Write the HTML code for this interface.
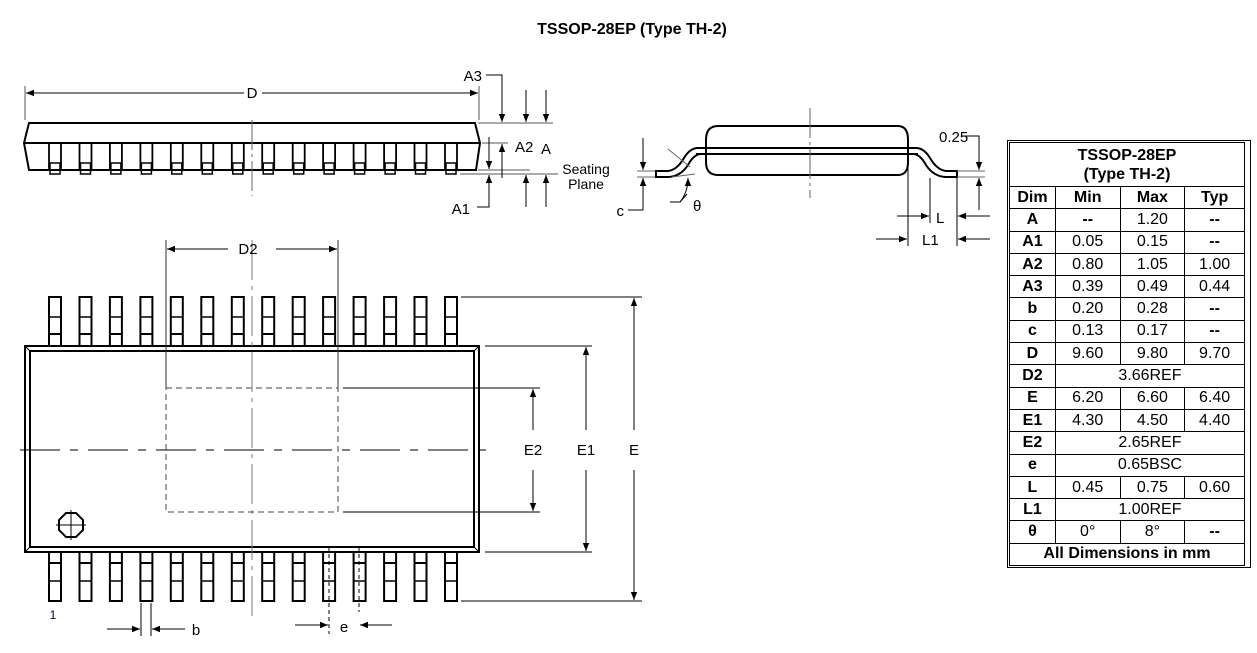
<!DOCTYPE html>
<html><head><meta charset="utf-8"><style>
body{margin:0;background:#fff;width:1257px;height:653px;overflow:hidden}
svg{display:block}
text{font-family:"Liberation Sans",Arial,sans-serif;fill:#000}
.t{font-size:15px}
td{border:1px solid #000;text-align:center;padding:0;font-size:16px;line-height:18px}
tr{height:22.3px}
</style></head><body>
<div style="position:absolute;left:0;top:0">
<svg width="1257" height="653" viewBox="0 0 1257 653">
<defs>
<marker id="ar" viewBox="0 0 10 10" refX="10" refY="5" markerWidth="15" markerHeight="8" markerUnits="userSpaceOnUse" orient="auto"><path d="M0,1 L10,5 L0,9z" fill="#000"/></marker>
<g id="tp"><rect x="0" y="0" width="12" height="49" fill="#fff" stroke="#000" stroke-width="2"/><line x1="0" y1="20" x2="12" y2="20" stroke="#000" stroke-width="1.5"/><line x1="0" y1="37" x2="12" y2="37" stroke="#000" stroke-width="2"/></g>
<g id="bp"><rect x="0" y="0" width="12" height="49" fill="#fff" stroke="#000" stroke-width="2"/><line x1="0" y1="11" x2="12" y2="11" stroke="#000" stroke-width="2"/><line x1="0" y1="29" x2="12" y2="29" stroke="#000" stroke-width="1.5"/></g>
<g id="sp"><rect x="0" y="143" width="12" height="27" fill="#fff" stroke="#000" stroke-width="1.8"/><rect x="1" y="163" width="10" height="11" fill="#fff" stroke="#000" stroke-width="1.5"/></g>
</defs>
<text x="632" y="34" text-anchor="middle" font-size="16" font-weight="bold">TSSOP-28EP (Type TH-2)</text>

<g>
<use href="#sp" x="49"/><use href="#sp" x="79.5"/><use href="#sp" x="109.9"/><use href="#sp" x="140.4"/><use href="#sp" x="170.8"/><use href="#sp" x="201.3"/><use href="#sp" x="231.8"/><use href="#sp" x="262.2"/><use href="#sp" x="292.7"/><use href="#sp" x="323.1"/><use href="#sp" x="353.6"/><use href="#sp" x="384.1"/><use href="#sp" x="414.5"/><use href="#sp" x="445"/>
<path d="M29,123 L475,123 L480,143 L476,170 L29,170 L24,143 Z" fill="none" stroke="#000" stroke-width="2"/>
<line x1="24" y1="143" x2="480" y2="143" stroke="#000" stroke-width="2"/>
<line x1="252" y1="120" x2="252" y2="196" stroke="#666" stroke-width="1" stroke-dasharray="30,4,3,4"/>
<line x1="25" y1="86" x2="25" y2="120" stroke="#555"/>
<line x1="479" y1="86" x2="479" y2="120" stroke="#555"/>
<line x1="244" y1="93" x2="26" y2="93" stroke="#000" marker-end="url(#ar)"/>
<line x1="262" y1="93" x2="478" y2="93" stroke="#000" marker-end="url(#ar)"/>
<text x="252" y="98" text-anchor="middle" class="t">D</text>
<g stroke="#555"><line x1="478" y1="123" x2="553" y2="123"/><line x1="482" y1="143" x2="508" y2="143"/><line x1="478" y1="170" x2="530" y2="170"/><line x1="460" y1="174" x2="558" y2="174"/></g>
<g stroke="#000" fill="none">
<polyline points="486,75 502,75 502,90"/><line x1="502" y1="90" x2="502" y2="122" marker-end="url(#ar)"/><line x1="502" y1="178" x2="502" y2="144" marker-end="url(#ar)"/>
<line x1="526" y1="90" x2="526" y2="122" marker-end="url(#ar)"/><line x1="526" y1="207" x2="526" y2="175" marker-end="url(#ar)"/>
<line x1="546" y1="90" x2="546" y2="122" marker-end="url(#ar)"/><line x1="546" y1="207" x2="546" y2="175" marker-end="url(#ar)"/>
<line x1="489" y1="137" x2="489" y2="169" marker-end="url(#ar)"/><polyline points="477,207 489,207 489,190"/><line x1="489" y1="207" x2="489" y2="175" marker-end="url(#ar)"/>
</g>
<text x="482" y="81" text-anchor="end" class="t">A3</text>
<text x="515" y="152" class="t">A2</text><text x="541" y="154" class="t">A</text>
<text x="470" y="214" text-anchor="end" class="t">A1</text>
<text x="586" y="174" text-anchor="middle" font-size="14">Seating</text>
<text x="586" y="189" text-anchor="middle" font-size="14">Plane</text>
</g>

<g fill="none" stroke="#000" stroke-width="2">
<path d="M718,126 L898,126 Q908,126 908,140 L908,162 Q908,175 898,175 L718,175 Q706,175 706,162 L706,140 Q706,126 718,126 Z"/>
<line x1="696" y1="148" x2="918" y2="148"/><line x1="696" y1="154" x2="918" y2="154"/>
<path d="M908,148 L916,148 Q924,148 930,158 Q937,170 946,171 L957,171 L957,177 L945,177 Q933,176 926,165 Q920,154 913,154 L908,154"/>
<path d="M706,148 L698,148 Q690,148 684,158 Q677,170 668,171 L656,171 L656,177 L669,177 Q681,176 688,165 Q694,154 701,154 L706,154"/>
</g>
<line x1="810" y1="108" x2="810" y2="198" stroke="#666" stroke-dasharray="30,4,3,4"/>
<g stroke="#666"><line x1="957" y1="171" x2="985" y2="171"/><line x1="957" y1="177" x2="985" y2="177"/><line x1="637" y1="171" x2="655" y2="171"/><line x1="637" y1="177" x2="655" y2="177"/><line x1="672" y1="177" x2="695" y2="174"/><line x1="668" y1="149" x2="690" y2="167"/></g>
<g stroke="#000" fill="none">
<polyline points="962,136 979,136 979,150"/><line x1="979" y1="136" x2="979" y2="170" marker-end="url(#ar)"/><line x1="979" y1="210" x2="979" y2="178" marker-end="url(#ar)"/>
<line x1="643" y1="138" x2="643" y2="170" marker-end="url(#ar)"/><polyline points="628,210 643,210 643,195"/><line x1="643" y1="210" x2="643" y2="178" marker-end="url(#ar)"/>
<polyline points="670,202 680,202 687,194"/><path d="M680,202 Q688,192 688,178" marker-end="url(#ar)"/>
<line x1="908" y1="160" x2="908" y2="246"/><line x1="930" y1="178" x2="930" y2="223"/><line x1="957" y1="178" x2="957" y2="246"/>
<line x1="897" y1="216" x2="929" y2="216" marker-end="url(#ar)"/><line x1="990" y1="216" x2="958" y2="216" marker-end="url(#ar)"/>
<line x1="876" y1="239" x2="907" y2="239" marker-end="url(#ar)"/><line x1="990" y1="239" x2="958" y2="239" marker-end="url(#ar)"/>
</g>
<text x="939" y="142" class="t">0.25</text>
<text x="624" y="216" text-anchor="end" class="t">c</text>
<text x="693" y="211" class="t">θ</text>
<text x="936" y="223" class="t">L</text>
<text x="922" y="245" class="t">L1</text>

<g>
<use href="#tp" x="49" y="297"/><use href="#tp" x="79.5" y="297"/><use href="#tp" x="109.9" y="297"/><use href="#tp" x="140.4" y="297"/><use href="#tp" x="170.8" y="297"/><use href="#tp" x="201.3" y="297"/><use href="#tp" x="231.8" y="297"/><use href="#tp" x="262.2" y="297"/><use href="#tp" x="292.7" y="297"/><use href="#tp" x="323.1" y="297"/><use href="#tp" x="353.6" y="297"/><use href="#tp" x="384.1" y="297"/><use href="#tp" x="414.5" y="297"/><use href="#tp" x="445" y="297"/>
<use href="#bp" x="49" y="552"/><use href="#bp" x="79.5" y="552"/><use href="#bp" x="109.9" y="552"/><use href="#bp" x="140.4" y="552"/><use href="#bp" x="170.8" y="552"/><use href="#bp" x="201.3" y="552"/><use href="#bp" x="231.8" y="552"/><use href="#bp" x="262.2" y="552"/><use href="#bp" x="292.7" y="552"/><use href="#bp" x="323.1" y="552"/><use href="#bp" x="353.6" y="552"/><use href="#bp" x="384.1" y="552"/><use href="#bp" x="414.5" y="552"/><use href="#bp" x="445" y="552"/>
<rect x="25" y="346" width="454" height="206" fill="#fff" stroke="#000" stroke-width="2"/>
<rect x="30" y="351" width="444" height="196" fill="none" stroke="#000" stroke-width="2"/>
<g stroke="#000" stroke-width="1"><line x1="25" y1="346" x2="30" y2="351"/><line x1="479" y1="346" x2="474" y2="351"/><line x1="25" y1="552" x2="30" y2="547"/><line x1="479" y1="552" x2="474" y2="547"/></g>
<rect x="166" y="388" width="172" height="124" fill="none" stroke="#444" stroke-dasharray="6,4"/>
<line x1="20" y1="450" x2="486" y2="450" stroke="#000" stroke-dasharray="40,10,8,10"/>
<line x1="252" y1="240" x2="252" y2="622" stroke="#777" stroke-dasharray="40,6,4,6"/>
<polygon points="66,513 76,513 83,520 83,530 76,537 66,537 59,530 59,520" fill="none" stroke="#000" stroke-width="2"/>
<line x1="71" y1="510" x2="71" y2="540" stroke="#000"/><line x1="56" y1="525" x2="86" y2="525" stroke="#000"/>
<g stroke="#333"><line x1="166" y1="240" x2="166" y2="388"/><line x1="338" y1="240" x2="338" y2="388"/></g>
<g stroke="#000"><line x1="228" y1="249" x2="167" y2="249" marker-end="url(#ar)"/><line x1="276" y1="249" x2="337" y2="249" marker-end="url(#ar)"/>
<line x1="343" y1="388" x2="540" y2="388"/><line x1="343" y1="512" x2="540" y2="512"/>
<line x1="533" y1="430" x2="533" y2="389" marker-end="url(#ar)"/><line x1="533" y1="470" x2="533" y2="511" marker-end="url(#ar)"/>
<line x1="485" y1="346" x2="592" y2="346"/><line x1="485" y1="552" x2="592" y2="552"/>
<line x1="586" y1="430" x2="586" y2="347" marker-end="url(#ar)"/><line x1="586" y1="470" x2="586" y2="551" marker-end="url(#ar)"/>
<line x1="461" y1="297" x2="642" y2="297"/><line x1="461" y1="601" x2="642" y2="601"/>
<line x1="634" y1="430" x2="634" y2="298" marker-end="url(#ar)"/><line x1="634" y1="470" x2="634" y2="600" marker-end="url(#ar)"/>
<line x1="141" y1="603" x2="141" y2="636"/><line x1="151" y1="603" x2="151" y2="636"/>
<line x1="107" y1="629" x2="140" y2="629" marker-end="url(#ar)"/><line x1="185" y1="629" x2="152" y2="629" marker-end="url(#ar)"/>
<line x1="295" y1="625" x2="328" y2="625" marker-end="url(#ar)"/><line x1="392" y1="625" x2="360" y2="625" marker-end="url(#ar)"/>
</g>
<g stroke="#000" stroke-dasharray="4,3"><line x1="329" y1="547" x2="329" y2="634"/><line x1="359" y1="547" x2="359" y2="612"/></g>
<text x="248" y="254" text-anchor="middle" class="t">D2</text>
<text x="533" y="455" text-anchor="middle" class="t">E2</text>
<text x="586" y="455" text-anchor="middle" class="t">E1</text>
<text x="634" y="455" text-anchor="middle" class="t">E</text>
<text x="196" y="635" text-anchor="middle" class="t">b</text>
<text x="344" y="632" text-anchor="middle" class="t">e</text>
<text x="53" y="619" text-anchor="middle" font-size="12" style="fill:#003">1</text>
</g>
</svg>
</div>
<div style="position:absolute;left:1007px;top:140px;width:240px;height:424px;border:1px solid #000;padding:1px">
<table style="border-collapse:collapse;width:236px;font-family:'Liberation Sans',Arial,sans-serif">
<colgroup><col style="width:46px"><col style="width:65px"><col style="width:65px"><col style="width:60px"></colgroup>
<tr style="height:44px"><td colspan="4" style="font-weight:bold;line-height:19px">TSSOP-28EP<br>(Type TH-2)</td></tr>
<tr style="font-weight:bold"><td>Dim</td><td>Min</td><td>Max</td><td>Typ</td></tr>
<tr><td><b>A</b></td><td><b>--</b></td><td>1.20</td><td><b>--</b></td></tr>
<tr><td><b>A1</b></td><td>0.05</td><td>0.15</td><td><b>--</b></td></tr>
<tr><td><b>A2</b></td><td>0.80</td><td>1.05</td><td>1.00</td></tr>
<tr><td><b>A3</b></td><td>0.39</td><td>0.49</td><td>0.44</td></tr>
<tr><td><b>b</b></td><td>0.20</td><td>0.28</td><td><b>--</b></td></tr>
<tr><td><b>c</b></td><td>0.13</td><td>0.17</td><td><b>--</b></td></tr>
<tr><td><b>D</b></td><td>9.60</td><td>9.80</td><td>9.70</td></tr>
<tr><td><b>D2</b></td><td colspan="3">3.66REF</td></tr>
<tr><td><b>E</b></td><td>6.20</td><td>6.60</td><td>6.40</td></tr>
<tr><td><b>E1</b></td><td>4.30</td><td>4.50</td><td>4.40</td></tr>
<tr><td><b>E2</b></td><td colspan="3">2.65REF</td></tr>
<tr><td><b>e</b></td><td colspan="3">0.65BSC</td></tr>
<tr><td><b>L</b></td><td>0.45</td><td>0.75</td><td>0.60</td></tr>
<tr><td><b>L1</b></td><td colspan="3">1.00REF</td></tr>
<tr><td><b>θ</b></td><td>0°</td><td>8°</td><td><b>--</b></td></tr>
<tr><td colspan="4" style="font-weight:bold">All Dimensions in mm</td></tr>
</table>
</div>
</body></html>
